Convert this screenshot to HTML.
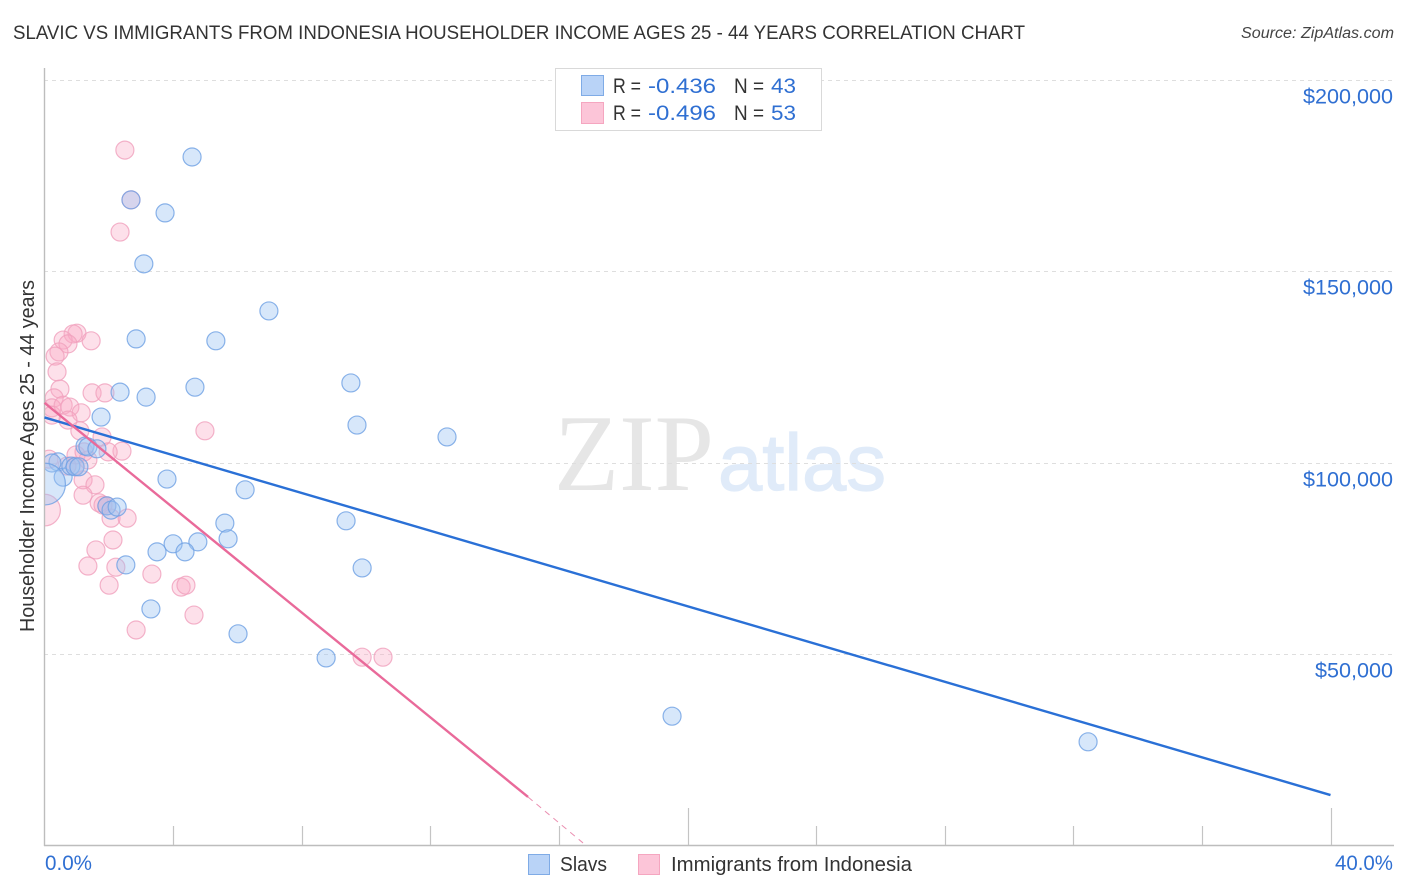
<!DOCTYPE html>
<html lang="en">
<head>
<meta charset="utf-8">
<title>Slavic vs Immigrants from Indonesia Householder Income Correlation Chart</title>
<style>
html,body{margin:0;padding:0;background:#fff;width:1406px;height:892px;overflow:hidden}
svg{display:block;font-family:"Liberation Sans",sans-serif}
</style>
</head>
<body>
<svg id="chart" width="1406" height="892" viewBox="0 0 1406 892" xmlns="http://www.w3.org/2000/svg">
  <text x="13" y="39" font-size="19" fill="#333" textLength="1012" lengthAdjust="spacingAndGlyphs">SLAVIC VS IMMIGRANTS FROM INDONESIA HOUSEHOLDER INCOME AGES 25 - 44 YEARS CORRELATION CHART</text>
  <text x="1241" y="38" font-size="15.5" font-style="italic" fill="#444" textLength="153" lengthAdjust="spacingAndGlyphs">Source: ZipAtlas.com</text>
  <g>
    <text x="554" y="490" font-family="'Liberation Serif',serif" font-size="109" fill="#e6e6e6" textLength="160" lengthAdjust="spacingAndGlyphs">ZIP</text>
    <text x="718" y="490" font-family="'Liberation Sans',sans-serif" font-size="80" fill="#e0ebf9" stroke="#e0ebf9" stroke-width="1.2" textLength="168" lengthAdjust="spacingAndGlyphs">atlas</text>
  </g>
  <g id="grid"></g>
  <g id="marks"></g>
  <rect x="0" y="60" width="44" height="790" fill="#fff"/>
  <g id="axes"></g>
  <g id="trends"></g>
  <text transform="translate(34,456) rotate(-90)" font-size="20" fill="#333" text-anchor="middle" textLength="352" lengthAdjust="spacingAndGlyphs">Householder Income Ages 25 - 44 years</text>
  <g>
    <rect x="555.5" y="68.5" width="266" height="62" fill="#fff" stroke="#d9d9d9" stroke-width="1"/>
    <rect x="581.5" y="75.5" width="22" height="20" fill="#b9d3f7" stroke="#7fabe6"/>
    <rect x="581.5" y="102.5" width="22" height="21" fill="#fcc5d8" stroke="#f5a6c0"/>
    <g font-size="21">
      <text x="613" y="93" fill="#333" textLength="28" lengthAdjust="spacingAndGlyphs">R =</text>
      <text x="648" y="93" fill="#2f6fd2" textLength="68" lengthAdjust="spacingAndGlyphs">-0.436</text>
      <text x="734" y="93" fill="#333" textLength="30" lengthAdjust="spacingAndGlyphs">N =</text>
      <text x="771" y="93" fill="#2f6fd2" textLength="25" lengthAdjust="spacingAndGlyphs">43</text>
      <text x="613" y="120" fill="#333" textLength="28" lengthAdjust="spacingAndGlyphs">R =</text>
      <text x="648" y="120" fill="#2f6fd2" textLength="68" lengthAdjust="spacingAndGlyphs">-0.496</text>
      <text x="734" y="120" fill="#333" textLength="30" lengthAdjust="spacingAndGlyphs">N =</text>
      <text x="771" y="120" fill="#2f6fd2" textLength="25" lengthAdjust="spacingAndGlyphs">53</text>
    </g>
  </g>
  <g>
    <rect x="528.5" y="854.5" width="21" height="20" fill="#b9d3f7" stroke="#7fabe6"/>
    <text x="560" y="871" font-size="20" fill="#333" textLength="47" lengthAdjust="spacingAndGlyphs">Slavs</text>
    <rect x="638.5" y="854.5" width="21" height="20" fill="#fcc5d8" stroke="#f5a6c0"/>
    <text x="671" y="871" font-size="20" fill="#333" textLength="241" lengthAdjust="spacingAndGlyphs">Immigrants from Indonesia</text>
  </g>
</svg>
<script>
const yTickValues = [200000, 150000, 100000, 50000];
const yTickLabels = ["$200,000", "$150,000", "$100,000", "$50,000"];
const xTickValues = [0, 4, 8, 12, 16, 20, 24, 28, 32, 36, 40];
const xEndLabels = ["0.0%", "40.0%"];
const slavsX = [4.59,3.75,2.69,3.09,6.98,2.85,5.33,9.53,4.68,2.35,3.16,9.72,12.52,1.76,1.26,1.35,1.63,0.42,0.23,0.58,0.82,0.95,1.07,3.81,6.24,9.38,5.61,5.71,4.00,4.77,3.50,4.37,2.53,9.88,3.31,6.02,8.76,19.52,32.46,1.94,2.07,2.26,0];
const slavsY = [179.9,165.3,168.7,152.0,139.7,132.4,131.9,120.9,119.8,118.5,117.2,109.9,106.8,112.0,104.4,104.2,103.7,100.3,100.0,96.3,99.2,99.0,99.0,95.8,93.0,84.9,84.3,80.2,78.9,79.4,76.8,76.8,73.4,72.6,61.9,55.4,49.1,33.9,27.2,88.8,87.7,88.5,94.5];
const indonesiaX = [2.50,2.69,2.35,1.01,0.89,0.58,0.73,1.45,0.45,0.33,0.39,0.48,0.30,0.23,0.23,0.58,0.79,1.14,0.73,1.10,1.48,1.88,4.99,1.79,2.41,1.98,0.98,1.35,0.14,1.20,1.57,1.20,1.70,1.82,2.07,2.57,2.13,1.60,1.35,2.22,2.01,3.34,4.25,4.40,4.65,2.85,9.88,10.53,0.95,1.23,0.70,1.94,0];
const indonesiaY = [181.7,168.7,160.3,133.9,133.7,132.1,131.1,131.9,129.0,127.9,123.8,119.3,117.0,114.4,112.5,115.1,114.6,113.1,111.2,108.4,118.3,118.3,108.4,106.8,103.1,102.9,102.1,100.8,101.0,95.6,94.3,91.6,89.6,89.0,85.6,85.6,79.9,77.3,73.1,72.8,68.1,71.0,67.6,68.1,60.3,56.4,49.3,49.3,99.2,102.9,99.2,88.8,87.7];
const slavsLargestWeight = 5.4;
const indonesiaLargestWeight = 3.1;
const slavsTrendX = [0, 40];
const slavsTrendY = [111.9, 13.3];
const indonesiaTrendX = [0, 15.04];
const indonesiaTrendY = [115.7, 12.8];
const indonesiaExtensionX = [15.04, 16.75];
const indonesiaExtensionY = [12.8, 0.8];

const NS = "http://www.w3.org/2000/svg";
const xScale = function (pct) { return 44.5 + pct * 32.15; };
const yScale = function (thousands) { return 846 - thousands * 3.83; };
const rScale = function (weight) { return 9 * Math.sqrt(weight); };

function make(tag, parent, attrs) {
  const el = document.createElementNS(NS, tag);
  Object.keys(attrs).forEach(function (k) { el.setAttribute(k, attrs[k]); });
  parent.appendChild(el);
  return el;
}

const grid = document.getElementById("grid");
const axes = document.getElementById("axes");
const marks = document.getElementById("marks");
const trends = document.getElementById("trends");

yTickValues.forEach(function (v, i) {
  const y = Math.floor(yScale(v / 1000)) + 0.5;
  const line = make("line", grid, {x1: 44, x2: 1394, y1: y, y2: y, stroke: "#dedede", "stroke-width": 1, "stroke-dasharray": "4 4"});
  
  
  const label = make("text", axes, {x: i === 3 ? 1315 : 1303, y: y + 23, "font-size": 21, fill: "#2f6fd2", textLength: i === 3 ? 78 : 90, lengthAdjust: "spacingAndGlyphs"});
  
  
  label.textContent = yTickLabels[i];
});

const yAxisLine = make("line", axes, {x1: 44.5, x2: 44.5, y1: 68, y2: 846, stroke: "#bdbdbd", "stroke-width": 1.4});


const xAxisLine = make("line", axes, {x1: 44, x2: 1394, y1: 845.5, y2: 845.5, stroke: "#bdbdbd", "stroke-width": 1.4});



xTickValues.forEach(function (v) {
  if (v === 0) return;
  const x = Math.round(xScale(v)) + 0.5;
  const major = v % 20 === 0;
  const tick = make("line", axes, {x1: x, x2: x, y1: major ? 808 : 826, y2: 845, stroke: "#c4c4c4", "stroke-width": 1.2});
  
  
});

const xLabelStart = make("text", axes, {x: 45, y: 870, "font-size": 21, fill: "#2f6fd2", textLength: 47, lengthAdjust: "spacingAndGlyphs"});


xLabelStart.textContent = xEndLabels[0];
const xLabelEnd = make("text", axes, {x: 1335, y: 870, "font-size": 21, fill: "#2f6fd2", textLength: 58, lengthAdjust: "spacingAndGlyphs"});


xLabelEnd.textContent = xEndLabels[1];

indonesiaX.forEach(function (x, i) {
  const weight = i === indonesiaX.length - 1 ? indonesiaLargestWeight : 1;
  const c = make("circle", marks, {cx: xScale(x), cy: yScale(indonesiaY[i]), r: rScale(weight), fill: "#f9a8c4", "fill-opacity": 0.36, stroke: "#f0a0bd", "stroke-opacity": 0.8, "stroke-width": 1.2});
  
  
});

slavsX.forEach(function (x, i) {
  const weight = i === slavsX.length - 1 ? slavsLargestWeight : 1;
  const c = make("circle", marks, {cx: xScale(x), cy: yScale(slavsY[i]), r: rScale(weight), fill: "#9cc2f2", "fill-opacity": 0.4, stroke: "#6ea0e4", "stroke-opacity": 0.8, "stroke-width": 1.2});
  
  
});

const slavsTrend = make("line", trends, {x1: xScale(slavsTrendX[0]), y1: yScale(slavsTrendY[0]), x2: xScale(slavsTrendX[1]), y2: yScale(slavsTrendY[1]), stroke: "#2a70d6", "stroke-width": 2.4});


const indonesiaTrend = make("line", trends, {x1: xScale(indonesiaTrendX[0]), y1: yScale(indonesiaTrendY[0]), x2: xScale(indonesiaTrendX[1]), y2: yScale(indonesiaTrendY[1]), stroke: "#e96a9a", "stroke-width": 2.4});


const indonesiaExtension = make("line", trends, {x1: xScale(indonesiaExtensionX[0]), y1: yScale(indonesiaExtensionY[0]), x2: xScale(indonesiaExtensionX[1]), y2: yScale(indonesiaExtensionY[1]), stroke: "#eb8fb1", "stroke-width": 1, "stroke-dasharray": "6 5"});


</script>
</body>
</html>
